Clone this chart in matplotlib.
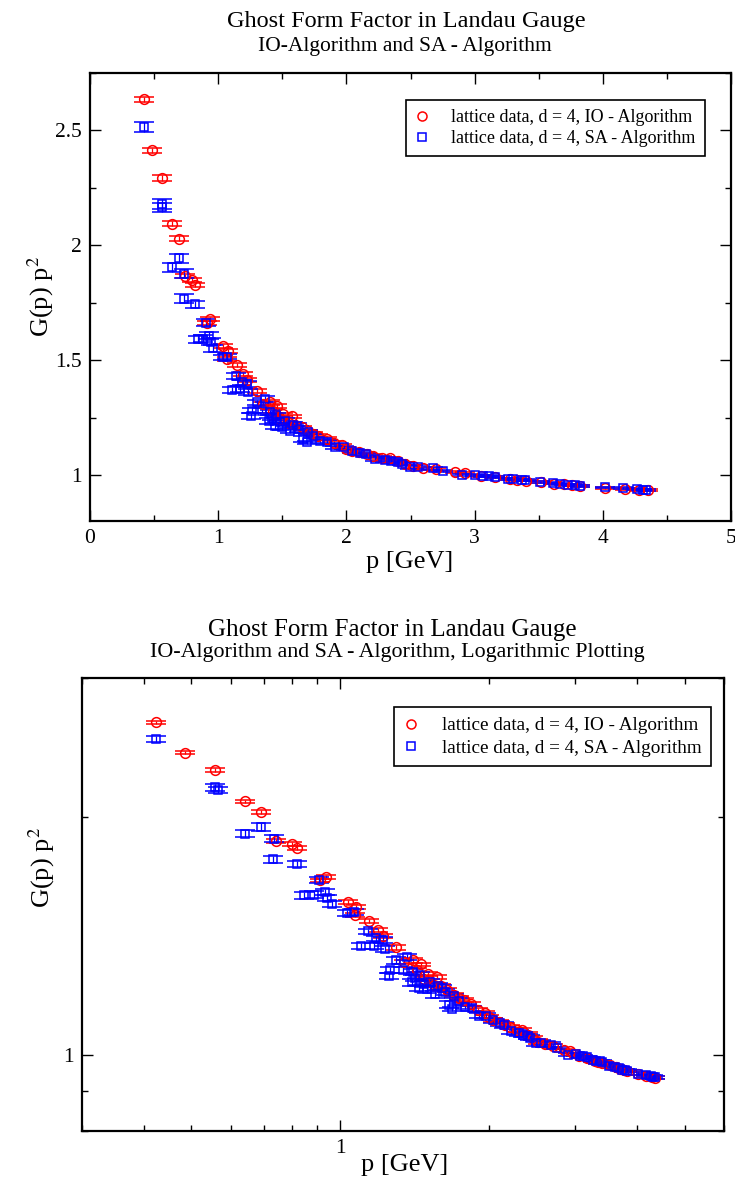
import matplotlib
matplotlib.use("Agg")
import matplotlib.pyplot as plt
from matplotlib import ticker
from matplotlib.lines import Line2D

plt.rcParams["font.family"] = ["Liberation Serif", "DejaVu Serif"]
plt.rcParams["mathtext.fontset"] = "stix"

# IO-Algorithm: momentum p [GeV], form factor G(p) p^2, error
io_p = [0.424, 0.486, 0.559, 0.642, 0.692, 0.741, 0.798, 0.819, 0.912, 0.936,
        1.040, 1.071, 1.079, 1.144, 1.196, 1.222, 1.300, 1.350, 1.404, 1.430,
        1.456, 1.480, 1.508, 1.550, 1.573, 1.600, 1.651, 1.700, 1.740, 1.781,
        1.846, 1.900, 1.963, 2.000, 2.041, 2.100, 2.160, 2.210, 2.280, 2.340,
        2.400, 2.460, 2.522, 2.600, 2.700, 2.847, 2.925, 3.050, 3.160, 3.280,
        3.330, 3.400, 3.520, 3.620, 3.700, 3.760, 3.820, 4.020, 4.170, 4.280, 4.350]
io_g = [2.635, 2.413, 2.293, 2.093, 2.029, 1.866, 1.849, 1.827, 1.662, 1.678,
        1.562, 1.504, 1.540, 1.478, 1.439, 1.414, 1.367, 1.310, 1.316, 1.280,
        1.301, 1.245, 1.265, 1.225, 1.255, 1.220, 1.207, 1.190, 1.180, 1.171,
        1.159, 1.140, 1.130, 1.115, 1.106, 1.100, 1.090, 1.084, 1.075, 1.073,
        1.060, 1.050, 1.038, 1.030, 1.025, 1.012, 1.009, 0.995, 0.990, 0.982,
        0.978, 0.976, 0.970, 0.963, 0.959, 0.955, 0.953, 0.945, 0.940, 0.936, 0.934]
io_err = [0.012, 0.012, 0.011, 0.011, 0.011, 0.010, 0.010, 0.010, 0.009, 0.009,
          0.009, 0.009, 0.009, 0.009, 0.009, 0.009, 0.009, 0.009, 0.009, 0.009,
          0.007, 0.007, 0.007, 0.007, 0.007, 0.007, 0.007, 0.007, 0.007, 0.007,
          0.007, 0.007, 0.007, 0.007, 0.007, 0.007, 0.007, 0.007, 0.007, 0.007,
          0.007, 0.007, 0.007, 0.007, 0.007, 0.004, 0.004, 0.004, 0.004, 0.004,
          0.004, 0.004, 0.004, 0.004, 0.004, 0.004, 0.004, 0.004, 0.004, 0.004, 0.004]

# SA-Algorithm
sa_p = [0.424, 0.559, 0.565, 0.642, 0.692, 0.733, 0.736, 0.817, 0.845, 0.884,
        0.905, 0.931, 0.940, 0.962, 1.035, 1.066, 1.105, 1.139, 1.170, 1.183,
        1.222, 1.235, 1.256, 1.261, 1.300, 1.339, 1.365, 1.400, 1.404, 1.420,
        1.443, 1.450, 1.482, 1.500, 1.520, 1.560, 1.580, 1.612, 1.630, 1.664,
        1.690, 1.703, 1.740, 1.794, 1.850, 1.911, 1.980, 2.040, 2.106, 2.150,
        2.223, 2.300, 2.350, 2.405, 2.430, 2.496, 2.560, 2.678, 2.756, 2.899,
        3.003, 3.068, 3.110, 3.159, 3.263, 3.300, 3.370, 3.390, 3.510, 3.614,
        3.670, 3.730, 3.780, 3.820, 4.017, 4.160, 4.264, 4.310, 4.340]
sa_g = [2.514, 2.180, 2.165, 1.904, 1.943, 1.768, 1.877, 1.743, 1.591, 1.594,
        1.664, 1.606, 1.580, 1.551, 1.512, 1.516, 1.371, 1.432, 1.374, 1.403,
        1.396, 1.362, 1.258, 1.280, 1.316, 1.280, 1.330, 1.235, 1.273, 1.250,
        1.214, 1.260, 1.229, 1.210, 1.235, 1.193, 1.220, 1.214, 1.200, 1.157,
        1.142, 1.186, 1.170, 1.149, 1.145, 1.120, 1.120, 1.105, 1.096, 1.090,
        1.070, 1.065, 1.060, 1.055, 1.050, 1.033, 1.035, 1.029, 1.019, 1.000,
        1.001, 0.997, 0.995, 0.993, 0.983, 0.982, 0.980, 0.979, 0.968, 0.965,
        0.961, 0.957, 0.955, 0.954, 0.946, 0.942, 0.939, 0.937, 0.936]
sa_err = [0.022, 0.020, 0.020, 0.020, 0.021, 0.018, 0.018, 0.016, 0.016, 0.016,
          0.015, 0.015, 0.015, 0.014, 0.012, 0.012, 0.012, 0.012, 0.012, 0.012,
          0.012, 0.012, 0.012, 0.012, 0.012, 0.012, 0.012, 0.012, 0.012, 0.012,
          0.012, 0.012, 0.012, 0.012, 0.012, 0.012, 0.012, 0.012, 0.012, 0.012,
          0.008, 0.008, 0.008, 0.008, 0.008, 0.008, 0.008, 0.008, 0.008, 0.008,
          0.008, 0.008, 0.008, 0.008, 0.008, 0.008, 0.008, 0.008, 0.004, 0.004,
          0.004, 0.004, 0.004, 0.004, 0.004, 0.004, 0.004, 0.004, 0.004, 0.004,
          0.004, 0.004, 0.004, 0.004, 0.004, 0.004, 0.004, 0.004, 0.004]

io_label = "lattice data, d = 4, IO - Algorithm"
sa_label = "lattice data, d = 4, SA - Algorithm"

W, H = 735, 1186
fig = plt.figure(figsize=(W / 100, H / 100), dpi=100)


def box(l, t, r, b):
    return [l / W, 1 - b / H, (r - l) / W, (b - t) / H]


def draw(ax):
    for p, g, e, col, mk, ms in [(io_p, io_g, io_err, "red", "o", 7.0),
                                 (sa_p, sa_g, sa_err, "blue", "s", 6.3)]:
        ax.errorbar(p, g, yerr=e, fmt=mk, mfc="none", mec=col, mew=1.1, ms=ms,
                    ecolor=col, elinewidth=0.9, capsize=7, capthick=0.9)
    handles = [Line2D([], [], ls="none", marker="o", mfc="none", mec="red", ms=6.5, mew=1.1),
               Line2D([], [], ls="none", marker="s", mfc="none", mec="blue", ms=6.0, mew=1.1)]
    return handles


def style(ax):
    for s in ax.spines.values():
        s.set_linewidth(1.6)
    ax.tick_params(which="both", direction="in", top=True, right=True, width=1.0,
                   labelsize=15.5, pad=6)
    ax.tick_params(which="major", length=8)
    ax.tick_params(which="minor", length=4.5)


def legend(ax, handles, anchor, size):
    leg = ax.legend(handles, [io_label, sa_label], loc="upper right", bbox_to_anchor=anchor,
                    fontsize=size, fancybox=False, edgecolor="black", framealpha=1,
                    handlelength=0.8, handletextpad=1.2, borderpad=0.5, labelspacing=0.25,
                    borderaxespad=0)
    leg.get_frame().set_linewidth(1.2)


# linear plot
ax1 = fig.add_axes(box(90, 73, 731, 521))
h = draw(ax1)
ax1.set_xlim(0, 5)
ax1.set_ylim(0.8, 2.75)
ax1.xaxis.set_major_locator(ticker.MultipleLocator(1))
ax1.xaxis.set_minor_locator(ticker.MultipleLocator(0.5))
ax1.yaxis.set_major_locator(ticker.MultipleLocator(0.5))
ax1.yaxis.set_minor_locator(ticker.MultipleLocator(0.25))
ax1.xaxis.set_major_formatter(ticker.FormatStrFormatter("%g"))
ax1.yaxis.set_major_formatter(ticker.FormatStrFormatter("%g"))
style(ax1)
legend(ax1, h, (0.959, 0.94), 13)
fig.text(406 / W, 1 - 22 / H, "Ghost Form Factor in Landau Gauge", ha="center", va="center", fontsize=17.5)
fig.text(405 / W, 1 - 46 / H, "IO-Algorithm and SA - Algorithm", ha="center", va="center", fontsize=15.5)
fig.text(41 / W, 1 - 297 / H, "G(p) p$^{2}$", rotation=90, ha="center", va="center", fontsize=19)
fig.text(410 / W, 1 - 562 / H, "p [GeV]", ha="center", va="center", fontsize=19)

# log plot
ax2 = fig.add_axes(box(82, 678, 724, 1131))
h = draw(ax2)
ax2.set_xscale("log")
ax2.set_yscale("log")
ax2.set_xlim(0.3, 6)
ax2.set_ylim(0.8, 3)
for axis in (ax2.xaxis, ax2.yaxis):
    axis.set_major_locator(ticker.LogLocator(base=10))
    axis.set_minor_locator(ticker.LogLocator(base=10, subs=range(2, 10)))
    axis.set_major_formatter(ticker.FormatStrFormatter("%g"))
    axis.set_minor_formatter(ticker.NullFormatter())
style(ax2)
legend(ax2, h, (0.98, 0.935), 13.8)
fig.text(392 / W, 1 - 630 / H, "Ghost Form Factor in Landau Gauge", ha="center", va="center", fontsize=18)
fig.text(397 / W, 1 - 653 / H, "IO-Algorithm and SA - Algorithm, Logarithmic Plotting",
         ha="center", va="center", fontsize=15.8)
fig.text(42 / W, 1 - 868 / H, "G(p) p$^{2}$", rotation=90, ha="center", va="center", fontsize=19)
fig.text(405 / W, 1 - 1165 / H, "p [GeV]", ha="center", va="center", fontsize=19)

fig.savefig("out.png", dpi=100)
